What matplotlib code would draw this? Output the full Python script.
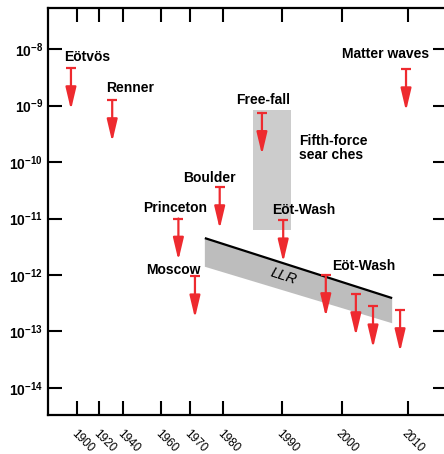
import numpy as np
import matplotlib
matplotlib.use("Agg")
import matplotlib.pyplot as plt

plt.rcParams['font.family'] = ['Liberation Sans', 'DejaVu Sans']
plt.rcParams['mathtext.default'] = 'regular'

# ---------------- data ----------------
tick_years = [1900, 1920, 1940, 1960, 1970, 1980, 1990, 2000, 2010]
y_ticks = [1e-14, 1e-13, 1e-12, 1e-11, 1e-10, 1e-9, 1e-8]

exp_names = ["Eötvös", "Renner", "Princeton", "Boulder", "Free-fall",
             "Eöt-Wash", "Moscow", "Matter waves", "Eöt-Wash", "", "", ""]
exp_years = [1894.5, 1931, 1966, 1979, 1986.6, 1990.2, 1971.5, 2009.7,
             1997.3, 2002.1, 2004.7, 2008.8]
exp_limits = [4.6e-9, 1.25e-9, 1.0e-11, 3.6e-11, 7.4e-10, 9.3e-12, 9.5e-13,
              4.4e-9, 1.0e-12, 4.6e-13, 2.8e-13, 2.4e-13]

fifth_force_years = [1985.1, 1991.5]
fifth_force_range = [6.3e-12, 8.3e-10]

llr_years = [1974.5, 2007.6]
llr_upper = [4.5e-12, 3.9e-13]
llr_lower = [1.4e-12, 1.4e-13]

# ---------------- styling / layout ----------------
RED = '#ee2a2f'
ARROW_DECADES = 0.74
# label offsets (points) relative to the top of each arrow
label_offsets = [(11.5, 8.2), (13, 8.5), (-2, 7.4), (-7.5, 6.8), (1, 9.6),
                 (14.8, 7.4), (-15.8, 4.8), (-14.4, 11), (27, 6.8),
                 (0, 0), (0, 0), (0, 0)]

# piecewise-linear (broken) time axis
scale_nodes_year = np.array(tick_years, float)
scale_nodes_pos = np.array([77, 99, 123, 161, 190, 223, 282, 342, 408], float)


def _pw(x, xs, ys):
    x = np.asarray(x, float)
    out = np.interp(x, xs, ys)
    lo = x < xs[0]
    hi = x > xs[-1]
    s0 = (ys[1] - ys[0]) / (xs[1] - xs[0])
    s1 = (ys[-1] - ys[-2]) / (xs[-1] - xs[-2])
    out = np.where(lo, ys[0] + (x - xs[0]) * s0, out)
    out = np.where(hi, ys[-1] + (x - xs[-1]) * s1, out)
    return out


def fwd(x):
    return _pw(x, scale_nodes_year, scale_nodes_pos)


def inv(p):
    return _pw(p, scale_nodes_pos, scale_nodes_year)


fig = plt.figure(figsize=(4.44, 4.54), dpi=100)
ax = fig.add_axes([48 / 444, 39 / 454, 399 / 444, 407 / 454])
ax.set_xscale('function', functions=(fwd, inv))
ax.set_yscale('log')
ax.set_xlim(inv(48), inv(447))
ax.set_ylim(10 ** -14.478, 10 ** -7.274)

# fifth-force searches box
fx0, fx1 = fifth_force_years
fy0, fy1 = fifth_force_range
ax.fill([fx0, fx1, fx1, fx0], [fy0, fy0, fy1, fy1], color='#cccccc', lw=0, zorder=1)
ax.text(1992.8, 1.8e-10, "Fifth-force\nsear ches", ha='left', va='center',
        fontsize=10, fontweight='bold', linespacing=1.0, zorder=5)

# LLR band
ax.fill([llr_years[0], llr_years[1], llr_years[1], llr_years[0]],
        [llr_upper[0], llr_upper[1], llr_lower[1], llr_lower[0]],
        color='#bdbdbd', lw=0, zorder=2)
ax.plot(llr_years, llr_upper, color='black', lw=1.6, zorder=3, solid_capstyle='butt')
ax.text(1990.2, 9.5e-13, "LLR", rotation=-18, ha='center', va='center',
        fontsize=10.5, fontstyle='italic', zorder=5)

# experiment arrows
for name, yr, lim, off in zip(exp_names, exp_years, exp_limits, label_offsets):
    tip = lim / 10 ** ARROW_DECADES
    ax.annotate('', xy=(yr, tip), xytext=(yr, lim),
                arrowprops=dict(arrowstyle='-|>,head_length=1.35,head_width=0.32',
                                color=RED, lw=1.6, shrinkA=0, shrinkB=0,
                                mutation_scale=10),
                zorder=4)
    ax.plot([yr], [lim], marker='_', ms=7.5, mew=1.6, color=RED, zorder=4)
    if name:
        ax.annotate(name, xy=(yr, lim), xytext=off, textcoords='offset points',
                    ha='center', va='center', fontsize=10, fontweight='bold',
                    zorder=5)

# axes styling
for side in ['left', 'bottom', 'top', 'right']:
    ax.spines[side].set_linewidth(1.6)
ax.set_xticks(tick_years)
ax.set_xticklabels([str(t) for t in tick_years])
ax.set_yticks(y_ticks)
ax.yaxis.set_minor_locator(matplotlib.ticker.NullLocator())
ax.xaxis.set_minor_locator(matplotlib.ticker.NullLocator())
ax.tick_params(axis='both', which='major', direction='in', length=10, width=1.5)
ax.tick_params(axis='x', top=True, bottom=True, pad=9, labelsize=8.5)
ax.tick_params(axis='y', left=True, right=True, pad=3.5, labelsize=10)
for lab in ax.get_yticklabels():
    lab.set_fontweight('bold')
for lab in ax.get_xticklabels():
    lab.set_rotation(-45)
    lab.set_ha('left')
    lab.set_va('top')
    lab.set_rotation_mode('anchor')

fig.savefig('out.png', dpi=100)
